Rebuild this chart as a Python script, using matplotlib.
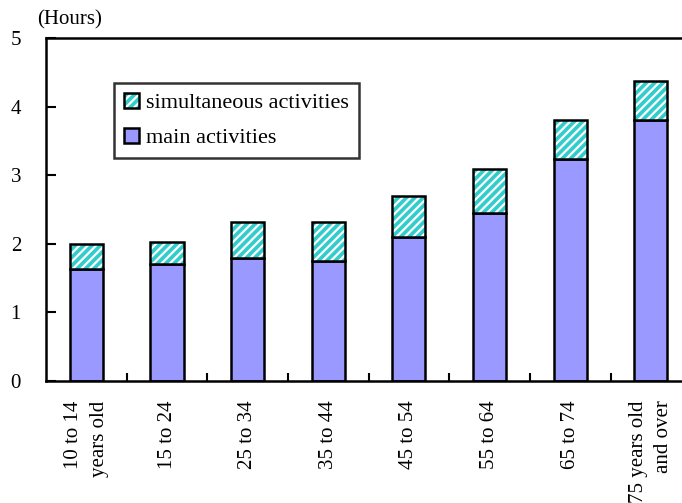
import matplotlib
matplotlib.use("Agg")
import matplotlib.pyplot as plt
from matplotlib.patches import Patch
from matplotlib.legend_handler import HandlerTuple
import numpy as np

plt.rcParams['font.family'] = ['Liberation Serif', 'DejaVu Serif']
plt.rcParams['hatch.linewidth'] = 1.6

# age groups and hours per day
age_groups = ["10 to 14\nyears old", "15 to 24", "25 to 34", "35 to 44",
              "45 to 54", "55 to 64", "65 to 74", "75 years old\nand over"]
main_hours = [1.63, 1.70, 1.80, 1.75, 2.10, 2.45, 3.24, 3.80]
total_hours = [1.99, 2.02, 2.32, 2.32, 2.70, 3.09, 3.81, 4.37]
simul_hours = [t - m for t, m in zip(total_hours, main_hours)]

main_color = '#9999FF'
simul_color = '#33CCCC'

fig = plt.figure(figsize=(6.82, 5.03), dpi=100)
ax = fig.add_axes([0.0675, 0.2425, 0.946, 0.682])

x = np.arange(len(age_groups))
w = 0.41
ax.bar(x, main_hours, w, color=main_color, edgecolor='black', linewidth=1.8, zorder=2)
ax.bar(x, simul_hours, w, bottom=main_hours, color=simul_color, edgecolor='white',
       hatch='////', linewidth=0, zorder=2)
ax.bar(x, simul_hours, w, bottom=main_hours, fill=False, edgecolor='black',
       linewidth=1.8, zorder=3)

ax.set_xlim(-0.5, len(age_groups) - 0.5)
ax.set_ylim(0, 5)
ax.set_yticks(range(6))
ax.set_xticks(x)
ax.set_xticklabels(age_groups, rotation=90, ha='center', va='top',
                   multialignment='right', linespacing=1.45, fontsize=15)
ax.set_xticks(np.arange(0.5, len(age_groups) - 0.5, 1), minor=True)
ax.tick_params(axis='x', which='major', length=0, pad=14)
ax.tick_params(axis='x', which='minor', direction='in', length=6, width=1.5)
ax.tick_params(axis='y', direction='in', length=7, width=1.5, pad=18, labelsize=15)

for s in ['left', 'top', 'bottom']:
    ax.spines[s].set_linewidth(1.8)
ax.spines['right'].set_visible(False)

fig.text(0.054, 0.942, "(Hours)", fontsize=15, ha='left', va='bottom')

h_simul = (Patch(facecolor=simul_color, edgecolor='white', hatch='////', linewidth=0),
           Patch(fill=False, edgecolor='black', linewidth=1.8))
h_main = Patch(facecolor=main_color, edgecolor='black', linewidth=1.8)
leg = ax.legend([h_simul, h_main], ["simultaneous activities", "main activities"],
                handler_map={tuple: HandlerTuple(ndivide=1)},
                loc='upper left', bbox_to_anchor=(0.105, 0.869),
                fontsize=16, frameon=True, fancybox=False, edgecolor='black',
                handlelength=0.7, handleheight=0.7, handletextpad=0.3,
                borderpad=0.45, labelspacing=0.65, borderaxespad=0)
leg.get_frame().set_linewidth(1.8)

fig.savefig("out.png", dpi=100)
